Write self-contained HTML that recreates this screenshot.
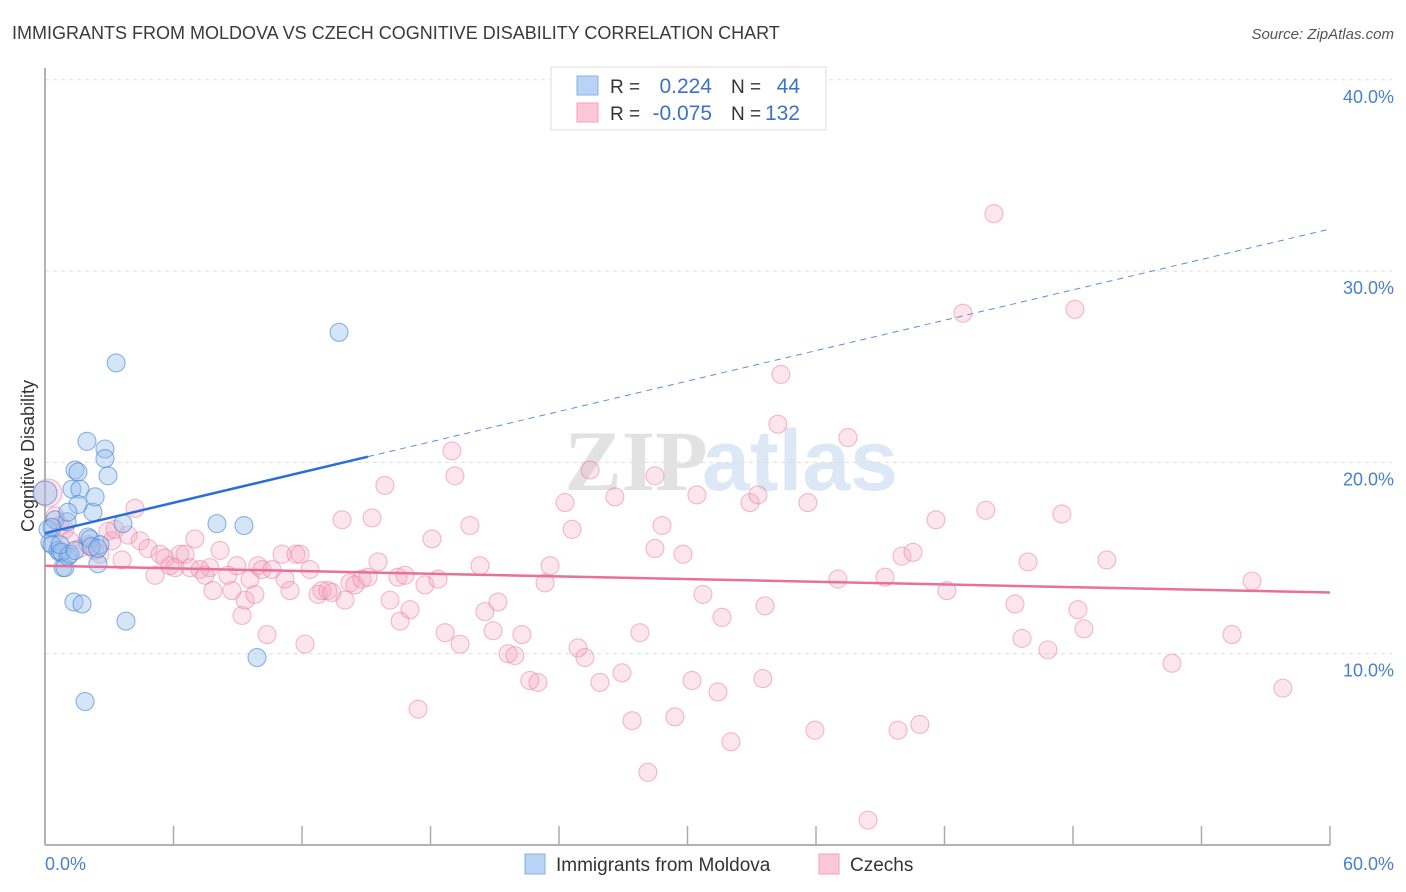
<!DOCTYPE html>
<html><head><meta charset="utf-8">
<style>
body{margin:0;background:#fff;font-family:"Liberation Sans",sans-serif}
svg{display:block}
</style></head>
<body>
<svg id="chart" width="1406" height="892" xmlns="http://www.w3.org/2000/svg" font-family="Liberation Sans, sans-serif">
<text x="12" y="39" font-size="18" fill="#3a3a3a">IMMIGRANTS FROM MOLDOVA VS CZECH COGNITIVE DISABILITY CORRELATION CHART</text>
<text x="1394" y="39" font-size="15" fill="#555" text-anchor="end" font-style="italic">Source: ZipAtlas.com</text>
<g font-size="86" text-anchor="middle">
<text x="636" y="490" fill="#e2e2e2" font-family="Liberation Serif, serif" font-weight="bold">ZIP</text>
<text x="800" y="490" fill="#dde8f6" font-weight="bold">atlas</text>
</g>
<g id="grid"></g>
<g id="ticks"></g>
<line x1="45" y1="68" x2="45" y2="845" stroke="#999" stroke-width="1.5"/>
<line x1="45" y1="845" x2="1330" y2="845" stroke="#999" stroke-width="1.5"/>
<g id="xticks"></g>
<text transform="translate(34,456) rotate(-90)" font-size="18" fill="#333" text-anchor="middle">Cognitive Disability</text>
<text x="45" y="870" font-size="18" fill="#4a7fd0">0.0%</text>
<text x="1394" y="870" font-size="18" fill="#4a7fd0" text-anchor="end">60.0%</text>
<g id="pink"></g>
<g id="blue"></g>
<g id="lines"></g>
<g>
<rect x="551" y="67" width="275" height="63" fill="#fff" stroke="#ddd"/>
<rect x="577" y="76" width="21" height="19" fill="#b8d3f5" stroke="#8ab0e6"/>
<rect x="577" y="103" width="21" height="19" fill="#fcc8d8" stroke="#f0a0b8"/>
<text x="610" y="93" font-size="19" fill="#333">R =</text>
<text x="712" y="93" font-size="21" fill="#3c72c8" text-anchor="end">0.224</text>
<text x="731" y="93" font-size="19" fill="#333">N =</text>
<text x="800" y="93" font-size="21" fill="#3c72c8" text-anchor="end">44</text>
<text x="610" y="120" font-size="19" fill="#333">R =</text>
<text x="712" y="120" font-size="21" fill="#3c72c8" text-anchor="end">-0.075</text>
<text x="731" y="120" font-size="19" fill="#333">N =</text>
<text x="800" y="120" font-size="21" fill="#3c72c8" text-anchor="end">132</text>
</g>
<g>
<rect x="525" y="854" width="20" height="20" fill="#b8d3f5" stroke="#8ab0e6"/>
<text x="556" y="871" font-size="19" fill="#333">Immigrants from Moldova</text>
<rect x="819" y="854" width="20" height="20" fill="#fcc8d8" stroke="#f0a0b8"/>
<text x="850" y="871" font-size="19" fill="#333">Czechs</text>
</g>
</svg>
<script>
const yTicks=[10,20,30,40];
const xTicks=[0,6,12,18,24,30,36,42,48,54,60];
const blueX=[0,0.14,0.23,0.33,0.47,0.61,0.70,0.79,0.84,0.93,1.03,1.07,1.17,1.26,1.35,1.40,1.54,1.63,1.73,1.87,1.96,2.01,2.10,2.24,2.34,2.47,2.57,2.80,2.80,2.94,3.32,3.64,3.78,8.03,9.29,9.90,13.73,1.54,0.70,1.40,2.15,0.33,1.07,2.47];
const blueY=[18.4,16.5,15.8,15.7,17.0,15.4,15.3,15.3,14.5,14.5,16.9,15.1,15.2,18.6,12.7,19.6,19.5,18.6,12.6,7.5,21.1,16.1,16.0,17.4,18.2,14.7,15.7,20.7,20.2,19.3,25.2,16.8,11.7,16.8,16.7,9.8,26.8,17.8,15.7,15.4,15.6,16.6,17.4,15.5];
const pinkX=[0.14,0.47,0.70,0.93,1.17,1.63,2.01,2.33,2.57,2.94,3.13,3.27,3.60,3.88,4.20,4.44,4.81,5.14,5.37,5.60,5.84,6.07,6.30,6.54,6.77,7.00,7.24,7.47,7.70,7.84,8.17,8.54,8.73,8.96,9.20,9.34,9.57,9.80,9.94,10.13,10.37,10.60,11.07,11.21,11.44,11.72,11.91,12.14,12.37,12.75,12.93,13.21,13.40,13.87,14.01,14.24,14.47,14.80,15.08,15.27,15.55,15.87,16.11,16.48,16.58,16.81,17.04,17.42,17.74,18.07,18.35,18.68,19.00,19.14,19.38,19.84,20.31,20.54,20.92,21.15,21.62,21.94,22.27,22.64,23.02,23.35,23.58,24.28,24.61,24.89,25.21,25.45,25.91,26.61,26.94,27.41,27.78,28.15,28.48,28.48,28.81,29.41,29.79,30.21,30.44,30.72,31.42,31.61,32.03,32.92,33.29,33.62,33.52,34.22,34.36,35.62,35.95,37.02,37.49,38.43,39.22,39.83,40.01,40.53,40.85,41.60,42.11,42.86,43.93,44.31,45.29,45.62,45.90,46.83,47.48,48.09,48.23,48.51,49.58,52.62,55.42,56.36,57.80];
const pinkY=[18.4,17.2,16.7,16.5,15.9,15.5,15.7,15.4,15.2,16.4,15.9,16.5,14.9,16.2,17.6,15.9,15.5,14.1,15.2,15.0,14.6,14.5,15.2,15.2,14.5,16.0,14.4,14.1,14.5,13.3,15.4,14.1,13.3,14.6,12.0,12.8,13.9,13.1,14.6,14.4,11.0,14.4,15.2,13.9,13.3,15.2,15.2,10.5,14.4,13.1,13.3,13.3,13.2,17.0,12.8,13.7,13.6,13.9,14.0,17.1,14.8,18.8,12.8,14.0,11.7,14.1,12.3,7.1,13.6,16.0,13.9,11.1,20.6,19.3,10.5,16.7,14.6,12.2,11.2,12.7,10.0,9.9,11.0,8.6,8.5,13.7,14.6,17.9,16.5,10.3,9.8,19.6,8.5,18.2,9.0,6.5,11.1,3.8,15.5,19.3,16.7,6.7,15.2,8.6,18.3,13.1,8.0,11.9,5.4,17.9,18.3,12.5,8.7,22.0,24.6,17.9,6.0,13.9,21.3,1.3,14.0,6.0,15.1,15.3,6.3,17.0,13.3,27.8,17.5,33.0,12.6,10.8,14.8,10.2,17.3,28.0,12.3,11.3,14.9,9.5,11.0,13.8,8.2];
const blueTrend={x0:0,y0:16.3,x1:15.08,y1:20.3,x2:60,y2:32.2};
const pinkTrend={x0:0,y0:14.6,x1:60,y1:13.2};
const NS="http://www.w3.org/2000/svg";
const sx=v=>45+v/60*1285;
const sy=v=>845-v*19.13;
function mk(tag,attrs,parent){const e=document.createElementNS(NS,tag);for(const k in attrs)e.setAttribute(k,attrs[k]);parent.appendChild(e);return e;}
const grid=document.getElementById('grid'),ticks=document.getElementById('ticks');
yTicks.forEach(t=>{
 const l=mk('line',{x1:45,x2:1392,y1:sy(t),y2:sy(t),stroke:'#ddd','stroke-dasharray':'4,4'},grid);
 
 
 const tx=mk('text',{x:1394,y:sy(t)+23,'font-size':18,fill:'#4a7fd0','text-anchor':'end'},ticks);
 tx.textContent=t.toFixed(1)+'%';
 
 
});
const xt=document.getElementById('xticks');
xTicks.forEach(t=>{
 const l=mk('line',{x1:sx(t),x2:sx(t),y1:826,y2:845,stroke:'#aaa','stroke-width':1.5},xt);
 
 
});
const pg=document.getElementById('pink');
pinkX.forEach((x,i)=>{
 const c=mk('circle',{cx:sx(x),cy:sy(pinkY[i]),r:i==0?14:9,fill:'rgba(246,160,188,0.28)',stroke:'rgba(232,120,160,0.5)','stroke-width':1.1},pg);
 
 
});
const bg=document.getElementById('blue');
blueX.forEach((x,i)=>{
 const c=mk('circle',{cx:sx(x),cy:sy(blueY[i]),r:i==0?12:9,fill:'rgba(150,190,238,0.4)',stroke:'rgba(70,130,210,0.6)','stroke-width':1.1},bg);
 
 
});
const lg=document.getElementById('lines');
const b1=mk('line',{x1:sx(blueTrend.x0),y1:sy(blueTrend.y0),x2:sx(blueTrend.x1),y2:sy(blueTrend.y1),stroke:'#2a6fd6','stroke-width':2.5},lg);


const b2=mk('line',{x1:sx(blueTrend.x1),y1:sy(blueTrend.y1),x2:sx(blueTrend.x2),y2:sy(blueTrend.y2),stroke:'#5a8fdc','stroke-width':1,'stroke-dasharray':'6,5'},lg);


const p1=mk('line',{x1:sx(pinkTrend.x0),y1:sy(pinkTrend.y0),x2:sx(pinkTrend.x1),y2:sy(pinkTrend.y1),stroke:'#e8709a','stroke-width':2.5},lg);


</script>
</body></html>
